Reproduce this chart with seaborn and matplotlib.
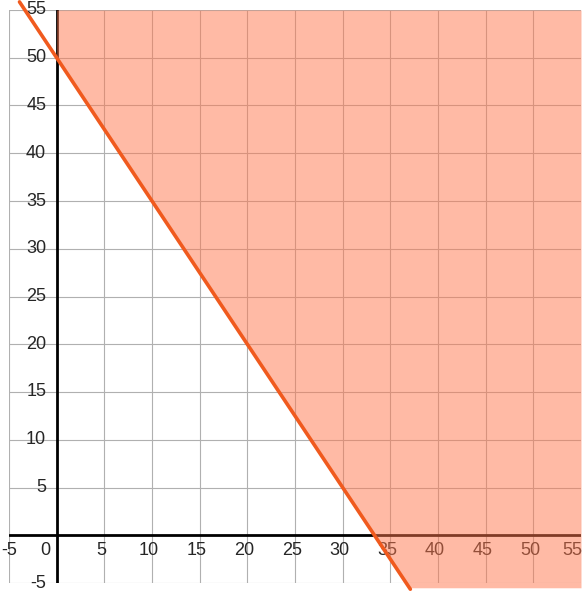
import matplotlib
matplotlib.use("Agg")
import matplotlib.pyplot as plt
import seaborn as sns
import pandas as pd
import numpy as np

# Data
line_x = [-3.9, 0, 10, 20, 37.1]
line_y = [55.85, 50, 35, 20, -5.65]
fill_x = [0, 37, 55]
fill_lower = [50, -5.5, -5.5]
fill_upper = [55, 55, 55]
tick_vals = [-5, 0, 5, 10, 15, 20, 25, 30, 35, 40, 45, 50, 55]
tick_labels = ["-5", "0", "5", "10", "15", "20", "25", "30", "35", "40", "45", "50", "55"]

sns.set_style("white")
plt.rcParams['font.family'] = ['Liberation Sans', 'DejaVu Sans']

fig = plt.figure(figsize=(5.87, 5.97), dpi=100)
ax = fig.add_axes([9/587, 14/597, 572/587, 573/597])
ax.set_xlim(-5, 55)
ax.set_ylim(-5, 55)
ax.set_xticks(tick_vals)
ax.set_yticks(tick_vals)
ax.tick_params(length=0, labelbottom=False, labelleft=False)
ax.grid(True, color="#b0b0b0", linewidth=0.8)
ax.set_axisbelow(True)
for s in ax.spines.values():
    s.set_visible(False)

# axes lines
ax.axhline(0, color="black", linewidth=2, zorder=2)
ax.axvline(0, color="black", linewidth=2, zorder=2)

# labels
fs = 13
for v, lab in zip(tick_vals, tick_labels):
    if v == 0:
        ax.text(-1.2, -1.6, lab, ha="center", va="center", fontsize=fs, zorder=3)
        continue
    xv = v
    if v == 55:
        xv = 54.1
    elif v > 0:
        xv = v - 0.3
    ax.text(xv, -1.6, lab, ha="center", va="center", fontsize=fs, zorder=3)
    ax.text(-1.1, v, lab, ha="right", va="center", fontsize=fs, zorder=3)

# fill
ax.fill_between(fill_x, fill_lower, fill_upper, color="#ff774d", alpha=0.5,
                linewidth=0, zorder=4, clip_on=False)

# line
df = pd.DataFrame({"x": line_x, "y": line_y})
sns.lineplot(data=df, x="x", y="y", ax=ax, color="#f05a1e", linewidth=2.6,
             zorder=5, sort=False)
for l in ax.lines[-1:]:
    l.set_clip_on(False)
ax.set_xlabel("")
ax.set_ylabel("")

fig.savefig("out.png", dpi=100)
